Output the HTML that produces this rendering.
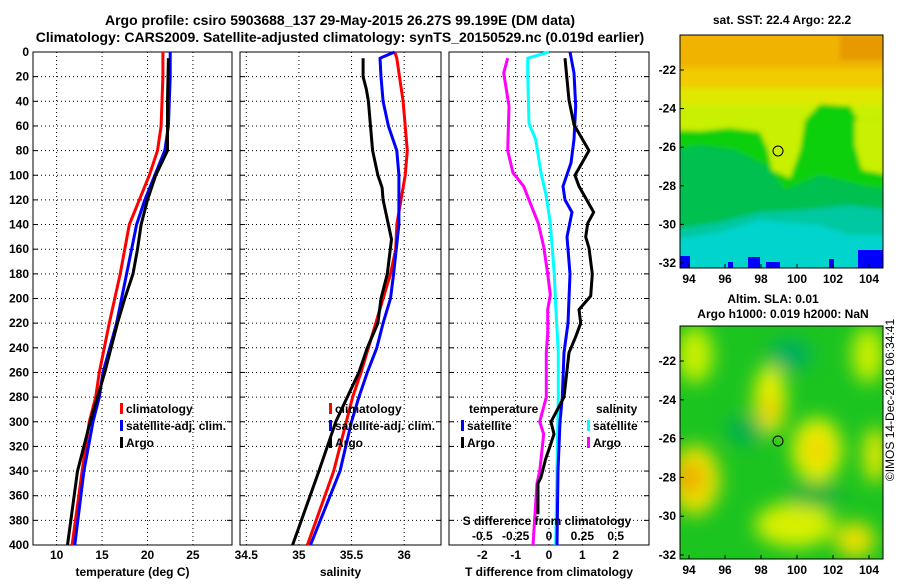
<!DOCTYPE html>
<html><head><meta charset="utf-8"><style>
body{margin:0;background:#fff;}
svg text{font-family:"Liberation Sans",sans-serif;font-weight:bold;fill:#000;}
</style></head><body>
<svg id="c" width="900" height="580" xmlns="http://www.w3.org/2000/svg">
<defs>
<filter id="blur1"><feGaussianBlur stdDeviation="2.5"/></filter>
<filter id="blur2"><feGaussianBlur stdDeviation="9"/></filter>
<clipPath id="cm1"><rect x="680" y="35" width="203" height="233"/></clipPath>
<clipPath id="cm2"><rect x="680" y="326" width="203" height="233"/></clipPath>
</defs>
<text x="340" y="25" font-size="14" text-anchor="middle">Argo profile: csiro 5903688_137 29-May-2015 26.27S 99.199E (DM data)</text>
<text x="340" y="42" font-size="14" text-anchor="middle">Climatology: CARS2009. Satellite-adjusted climatology: synTS_20150529.nc (0.019d earlier)</text>
<g id="plots"></g>
<g id="maps">
<text x="782" y="24" font-size="12" text-anchor="middle">sat. SST: 22.4 Argo: 22.2</text>
<g clip-path="url(#cm1)">
<rect x="670" y="25" width="230" height="260" fill="#f0b400"/>
<g filter="url(#blur1)">
<rect x="670" y="68" width="230" height="40" fill="#f0cc00"/>
<rect x="670" y="88" width="230" height="100" fill="#e0e800"/>
<rect x="670" y="105" width="230" height="80" fill="#c8f000"/>
<path d="M670 130 L700 131 L730 128 L760 132 L768 150 L772 170 L790 178 L800 150 L805 120 L820 104 L850 106 L858 120 L890 118 L890 285 L670 285Z" fill="#10d010"/>
<path d="M855 120 L890 118 L890 175 L862 170 L855 145Z" fill="#c8f000"/>
<path d="M670 150 L700 145 L735 150 L765 165 L785 190 L820 175 L860 185 L890 190 L890 285 L670 285Z" fill="#00c050"/>
<path d="M670 230 L720 222 L760 212 L800 210 L850 205 L890 210 L890 285 L670 285Z" fill="#00c8a0"/>
<path d="M670 240 L720 232 L760 220 L820 225 L850 235 L890 235 L890 285 L670 285Z" fill="#00d4cc"/>
<rect x="840" y="35" width="50" height="25" fill="#e08800" opacity="0.6"/>
</g>
<rect x="680" y="256" width="10" height="12" fill="#0000ff"/>
<rect x="748" y="257" width="12" height="11" fill="#0000ff"/>
<rect x="766" y="262" width="14" height="6" fill="#0000ff"/>
<rect x="858" y="250" width="25" height="18" fill="#0000ff"/>
<rect x="829" y="259" width="5" height="9" fill="#0000ff"/>
<rect x="728" y="262" width="5" height="6" fill="#0000ff"/>
</g>
<rect x="680" y="35" width="203" height="233" fill="none" stroke="#000" stroke-width="1"/>
<circle cx="778" cy="151" r="5" fill="none" stroke="#000"/>
<text x="773" y="303" font-size="12" text-anchor="middle">Altim. SLA: 0.01</text>
<text x="783" y="318" font-size="12" text-anchor="middle">Argo h1000: 0.019 h2000: NaN</text>
<g clip-path="url(#cm2)">
<rect x="670" y="316" width="230" height="260" fill="#1cc420"/>
<g filter="url(#blur2)">
<ellipse cx="695" cy="355" rx="18" ry="28" fill="#c8f000"/>
<ellipse cx="770" cy="400" rx="16" ry="35" fill="#e8f000"/>
<ellipse cx="770" cy="410" rx="9" ry="12" fill="#f0c800"/>
<ellipse cx="868" cy="355" rx="16" ry="28" fill="#c8f000"/>
<ellipse cx="817" cy="450" rx="25" ry="32" fill="#e8f000"/>
<ellipse cx="817" cy="450" rx="10" ry="15" fill="#f0d000"/>
<ellipse cx="695" cy="480" rx="25" ry="35" fill="#e8e000"/>
<ellipse cx="690" cy="478" rx="12" ry="15" fill="#f0a000"/>
<ellipse cx="795" cy="525" rx="40" ry="22" fill="#d8f000"/>
<ellipse cx="875" cy="455" rx="12" ry="28" fill="#e0e800"/>
<ellipse cx="855" cy="540" rx="20" ry="18" fill="#e8e000"/>
<ellipse cx="790" cy="355" rx="22" ry="16" fill="#00b060"/>
<ellipse cx="745" cy="430" rx="20" ry="14" fill="#00b050"/>
<ellipse cx="815" cy="495" rx="28" ry="12" fill="#00b040"/>
</g>
</g>
<rect x="680" y="326" width="203" height="233" fill="none" stroke="#000" stroke-width="1"/>
<circle cx="778" cy="441" r="5" fill="none" stroke="#000"/>
<text transform="translate(894,400) rotate(-90)" font-size="12" text-anchor="middle" style="font-weight:normal">©IMOS 14-Dec-2018 06:34:41</text>
</g>
</svg>
<script>
// depth levels and series
const tDepthClim=[0,20,40,60,80,100,120,140,180,220,260,280,300,340,400];
const tClim=[21.7,21.7,21.6,21.5,21.1,20.2,19.1,18.0,17.0,15.8,14.7,14.3,13.6,12.8,11.7];
const tDepthSat=[0,20,40,60,80,100,120,140,180,220,260,280,300,340,400];
const tSat=[22.5,22.5,22.4,22.3,21.9,20.8,19.7,18.8,17.7,16.6,15.1,14.7,14.0,13.0,12.0];
const tDepthArgo=[5,40,80,100,120,140,160,180,200,220,240,260,280,300,340,400];
const tArgo=[22.3,22.2,22.2,20.9,20.0,19.3,18.9,18.4,17.5,16.7,16.0,15.3,14.5,13.7,12.3,11.2];
const sDepthClim=[0,5,40,80,100,120,140,160,180,200,220,240,260,280,300,340,400];
const sClim=[35.91,35.93,35.99,36.03,36.01,35.97,35.93,35.92,35.87,35.8,35.73,35.66,35.59,35.51,35.45,35.33,35.08];
const sDepthSat=[0,5,20,40,60,80,100,120,140,180,200,220,240,260,280,300,340,400];
const sSat=[35.91,35.77,35.78,35.80,35.85,35.93,35.95,35.95,35.95,35.9,35.87,35.8,35.74,35.65,35.57,35.5,35.39,35.11];
const sDepthArgo=[5,20,30,40,80,100,110,120,140,152,180,200,220,240,260,280,300,340,400];
const sArgo=[35.61,35.61,35.64,35.66,35.70,35.75,35.79,35.8,35.85,35.88,35.84,35.78,35.75,35.65,35.57,35.46,35.35,35.19,34.94];
const dtDepthArgo=[5,39,59,80,100,109,130,139,150,159,180,198,209,220,231,244,280,300,310,320,330,345,350,375];
const dtArgo=[0.48,0.6,0.75,1.2,0.78,0.9,1.34,1.16,1.1,1.2,1.3,1.25,0.9,0.95,0.8,0.6,0.45,0.06,0.15,0.03,-0.1,-0.24,-0.33,-0.33];
const dtDepthSat=[0,17,44,71,90,109,120,130,150,180,220,244,280,300,340,400];
const dtSat=[0.63,0.75,0.8,0.75,0.66,0.42,0.48,0.69,0.54,0.63,0.57,0.45,0.4,0.33,0.27,0.24];
const dsDepthSat=[0,5,17,58,71,98,117,139,180,206,244,280,400];
const dsSat=[0.0,-0.16,-0.16,-0.15,-0.1,-0.06,-0.02,0.01,0.04,0.05,0.07,0.07,0.05];
const dsDepthArgo=[5,17,44,80,98,109,120,139,158,180,197,209,228,244,280,300,310,340,350,400];
const dsArgo=[-0.31,-0.34,-0.3,-0.31,-0.27,-0.19,-0.15,-0.08,-0.04,-0.01,0.01,-0.01,-0.01,-0.02,-0.02,-0.07,-0.04,-0.07,-0.09,-0.12];
const depthTicks=[0,20,40,60,80,100,120,140,160,180,200,220,240,260,280,300,320,340,360,380,400];
const tTicks=[10,15,20,25];
const sTicks=[34.5,35,35.5,36];
const dtTicks=[-2,-1,0,1,2];
const dsTicks=[-0.5,-0.25,0,0.25,0.5];
const dsTickLabels=["-0.5","-0.25","0","0.25","0.5"];
const lonTicks=[94,96,98,100,102,104];
const latTicks=[-22,-24,-26,-28,-30,-32];

const NS="http://www.w3.org/2000/svg";
const root=document.getElementById('plots');
const Y0=52,Y1=545;
const yS=d=>Y0+d*(Y1-Y0)/400;
function mk(tag,attrs,parent){const e=document.createElementNS(NS,tag);for(const k in attrs)e.setAttribute(k,attrs[k]);(parent||root).appendChild(e);return e;}
function txt(x,y,s,size,anchor,parent){const e=mk('text',{x:x,y:y,'font-size':size,'text-anchor':anchor||'middle'},parent);e.textContent=s;return e;}

const panels=[
 {name:'temperature',x0:33,x1:232,min:7.4,max:29.3,ticks:tTicks,label:'temperature (deg C)'},
 {name:'salinity',x0:240,x1:441,min:34.44,max:36.35,ticks:sTicks,label:'salinity'},
 {name:'difference',x0:449,x1:649,min:-3,max:3,ticks:dtTicks,label:'T difference from climatology'}
];
panels.forEach(p=>{p.xS=v=>p.x0+(v-p.min)/(p.max-p.min)*(p.x1-p.x0);});

panels.forEach((p,pi)=>{
  const g=mk('g',{});
  
  
  depthTicks.forEach(d=>{
    const l=mk('line',{x1:p.x0,x2:p.x1,y1:yS(d),y2:yS(d),stroke:'#000','stroke-width':1,'stroke-dasharray':'1,3'},g);
    
    
    mk('line',{x1:p.x0,x2:p.x0+5,y1:yS(d),y2:yS(d),stroke:'#000'},g);
    mk('line',{x1:p.x1,x2:p.x1-5,y1:yS(d),y2:yS(d),stroke:'#000'},g);
    if(pi===0){const t=txt(p.x0-4,yS(d)+4,String(d),12,'end',g);}
  });
  p.ticks.forEach(v=>{
    const x=p.xS(v);
    const l=mk('line',{x1:x,x2:x,y1:Y0,y2:Y1,stroke:'#000','stroke-width':1,'stroke-dasharray':'1,3'},g);
    
    
    const t=txt(x,Y1+14,String(v),12,'middle',g);
    
    
  });
  const r=mk('rect',{x:p.x0,y:Y0,width:p.x1-p.x0,height:Y1-Y0,fill:'none',stroke:'#000','stroke-width':1},g);
  
  
  const xl=txt((p.x0+p.x1)/2,Y1+31,p.label,12,'middle',g);
  
  
});

function line(p,xs,ds,color,name,xf){
  const f=xf||p.xS;
  const pts=xs.map((v,i)=>f(v).toFixed(1)+','+yS(ds[i]).toFixed(1)).join(' ');
  const e=mk('polyline',{points:pts,fill:'none',stroke:color,'stroke-width':3,'stroke-linejoin':'round'});
  
  
}
const P=panels;
line(P[0],tClim,tDepthClim,'#ff0000','temp-climatology-line');
line(P[0],tSat,tDepthSat,'#0000ff','temp-satellite-line');
line(P[0],tArgo,tDepthArgo,'#000000','temp-argo-line');
line(P[1],sClim,sDepthClim,'#ff0000','sal-climatology-line');
line(P[1],sSat,sDepthSat,'#0000ff','sal-satellite-line');
line(P[1],sArgo,sDepthArgo,'#000000','sal-argo-line');
const sxS=v=>P[2].xS(v*4);
line(P[2],dsArgo,dsDepthArgo,'#ff00ff','sdiff-argo-line',sxS);
line(P[2],dsSat,dsDepthSat,'#00ffff','sdiff-satellite-line',sxS);
line(P[2],dtSat,dtDepthSat,'#0000ff','tdiff-satellite-line');
line(P[2],dtArgo,dtDepthArgo,'#000000','tdiff-argo-line');

const st=txt(547,525,'S difference from climatology',12,'middle');


dsTicks.forEach((v,i)=>{const t=txt(sxS(v),540,dsTickLabels[i],12,'middle');

});

function legendEntry(x,y,color,label){
  const g=mk('g',{});
  
  
  mk('rect',{x:x,y:y-10,width:3,height:11,fill:color},g);
  txt(x+6,y,label,12,'start',g);
}
[[120],[329]].forEach(([x])=>{
  legendEntry(x,413,'#ff0000','climatology');
  legendEntry(x,430,'#0000ff','satellite-adj. clim.');
  legendEntry(x,447,'#000000','Argo');
});
const lt=txt(469,413,'temperature',12,'start');


legendEntry(461,430,'#0000ff','satellite');
legendEntry(461,447,'#000000','Argo');
const ls=txt(596,413,'salinity',12,'start');


legendEntry(587,430,'#00ffff','satellite');
legendEntry(587,447,'#ff00ff','Argo');

const maps=document.getElementById('maps');
[[35,268,70,263],[326,559,361,555]].forEach(([top,bot,y22,y32])=>{
  const lonX=v=>689+(v-94)*18;
  const latY=v=>y22+(v+22)/(-10)*(y32-y22);
  lonTicks.forEach(v=>{mk('line',{x1:lonX(v),x2:lonX(v),y1:bot,y2:bot-4,stroke:'#000'},maps);
    const t=txt(lonX(v),bot+15,String(v),12,'middle',maps);
    
    });
  latTicks.forEach(v=>{mk('line',{x1:680,x2:684,y1:latY(v),y2:latY(v),stroke:'#000'},maps);
    const t=txt(676,latY(v)+4,String(v),12,'end',maps);
    
    });
});
</script>
</body></html>
